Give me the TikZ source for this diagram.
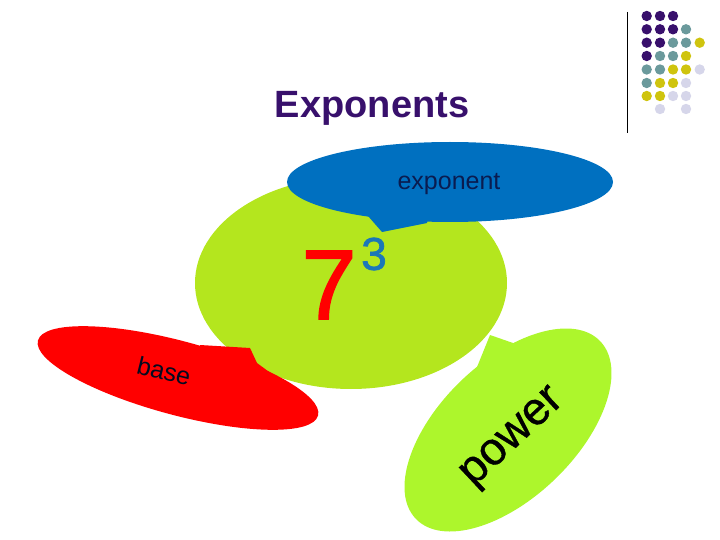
\documentclass[tikz,border=0pt]{standalone}
\usepackage{xcolor}
\usepackage{fontspec}
\setmainfont{Liberation Sans}
\newfontfamily\heavyfont[FakeBold=1.6]{Liberation Sans}
\newfontfamily\semifont[FakeBold=0.8]{Liberation Sans}
\definecolor{titlepurple}{HTML}{38106C}
\definecolor{dotteal}{HTML}{6B9A9C}
\definecolor{dotyellow}{HTML}{CFC40E}
\definecolor{dotlilac}{HTML}{D6D6EA}
\definecolor{bubblegreen}{HTML}{B4E61E}
\definecolor{bubbleblue}{HTML}{0070C0}
\definecolor{bubblelime}{HTML}{ADF62C}
\definecolor{threeblue}{HTML}{1B78B8}
\definecolor{labelnavy}{HTML}{0A1C50}
\tikzset{
    purpledot/.style={fill=titlepurple},
    tealdot/.style={fill=dotteal},
    yellowdot/.style={fill=dotyellow},
    lilacdot/.style={fill=dotlilac},
    label text/.style={inner sep=0pt, font=\fontsize{25}{25}\selectfont}
}

\begin{document}
\begin{tikzpicture}[x=1pt, y=-1pt]
        \useasboundingbox (0, 0) rectangle (720, 540);

        \fill[purpledot] (646.7, 16) circle (5.2);
        \fill[purpledot] (660, 16) circle (5.2);
        \fill[purpledot] (673, 16) circle (5.2);
        \fill[purpledot] (646.7, 29.3) circle (5.2);
        \fill[purpledot] (660, 29.3) circle (5.2);
        \fill[purpledot] (673, 29.3) circle (5.2);
        \fill[tealdot] (686, 29.3) circle (5.2);
        \fill[purpledot] (646.7, 42.7) circle (5.2);
        \fill[purpledot] (660, 42.7) circle (5.2);
        \fill[tealdot] (673, 42.7) circle (5.2);
        \fill[tealdot] (686, 42.7) circle (5.2);
        \fill[yellowdot] (699.7, 42.7) circle (5.2);
        \fill[purpledot] (646.7, 56) circle (5.2);
        \fill[tealdot] (660, 56) circle (5.2);
        \fill[tealdot] (673, 56) circle (5.2);
        \fill[yellowdot] (686, 56) circle (5.2);
        \fill[tealdot] (646.7, 69.5) circle (5.2);
        \fill[tealdot] (660, 69.5) circle (5.2);
        \fill[yellowdot] (673, 69.5) circle (5.2);
        \fill[yellowdot] (686, 69.5) circle (5.2);
        \fill[lilacdot] (699.7, 69.5) circle (5.2);
        \fill[tealdot] (646.7, 83) circle (5.2);
        \fill[yellowdot] (660, 83) circle (5.2);
        \fill[yellowdot] (673, 83) circle (5.2);
        \fill[lilacdot] (686, 83) circle (5.2);
        \fill[yellowdot] (646.7, 96) circle (5.2);
        \fill[yellowdot] (660, 96) circle (5.2);
        \fill[lilacdot] (673, 96) circle (5.2);
        \fill[lilacdot] (686, 96) circle (5.2);
        \fill[lilacdot] (660, 109) circle (5.2);
        \fill[lilacdot] (686, 109) circle (5.2);
        \draw[line width=0.8pt, black] (627.5, 12) -- (627.5, 133);

        \node[font=\fontsize{38}{38}\selectfont\bfseries, text=titlepurple, inner sep=0pt] (title) at (372, 108) {Exponents};

        \fill[bubblegreen] (351, 283) ellipse [x radius=156, y radius=106];

        \fill[bubbleblue] (450, 182) ellipse [x radius=163, y radius=40];
        \fill[bubbleblue] (368, 216) -- (382, 232) -- (427, 223) -- (430, 210) -- cycle;
        \node[label text, text=labelnavy] (exponent) at (449, 184) {exponent};

        \node[font=\heavyfont\fontsize{99}{99}\selectfont, text=red, inner sep=0pt] (seven) at (329, 285) {7};
        \node[font=\heavyfont\fontsize{46}{46}\selectfont, text=threeblue, inner sep=0pt] (three) at (374, 254) {3};

        \fill[red] (178, 378) ellipse [x radius=145, y radius=37, rotate=-15];
        \fill[red] (200, 345) -- (250, 348) -- (257, 363) -- (280, 380) -- (200, 380) -- cycle;
        \node[label text, text=labelnavy!40!black, rotate=-14] (base) at (164, 371) {base};

        \fill[bubblelime] (508, 430) ellipse [x radius=128, y radius=68, rotate=44];
        \fill[bubblelime] (475, 372) -- (490, 335) -- (513, 343) -- (540, 380) -- cycle;
        \node[font=\semifont\fontsize{46}{46}\selectfont, text=black, inner sep=0pt, rotate=43] (power) at (514, 439) {power};
\end{tikzpicture}
\end{document}
